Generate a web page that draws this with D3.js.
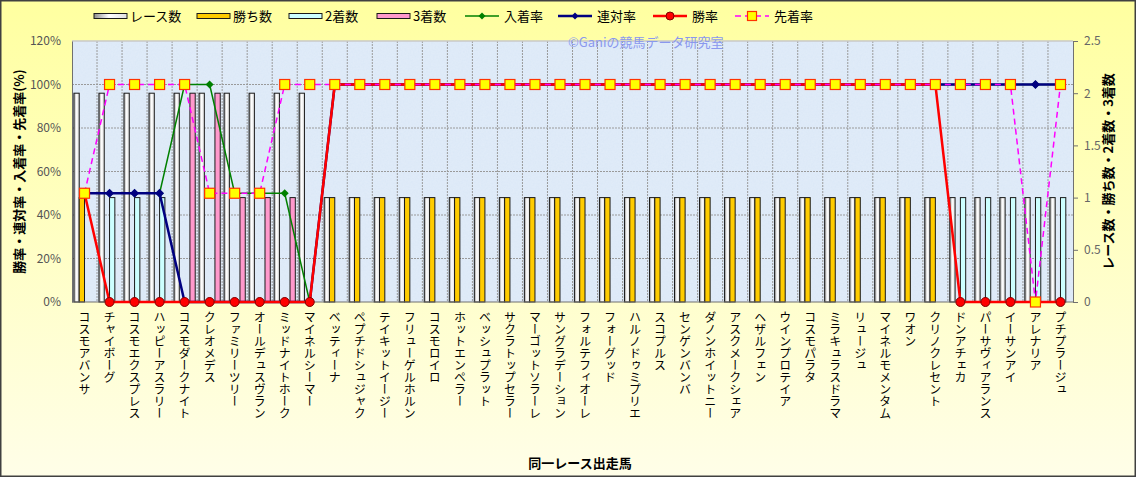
<!DOCTYPE html>
<html>
<head>
<meta charset="utf-8">
<script src="https://cdn.jsdelivr.net/npm/d3@7"></script>
<style>
  body { margin: 0; }
  text { font-family: "Noto Sans CJK JP", "Noto Sans", sans-serif; }
</style>
</head>
<body>
<div id="chart"></div>
<script>
// 同一レース出走馬の成績

const horses = ["コスモアバンサ", "チャイボーグ", "コスモエクスプレス", "ハッピーアスラリー", "コスモダークナイト",
  "クレオメデス", "ファミリーツリー", "オールデュスヴラン", "ミッドナイトホーク", "マイネルシーマー",
  "ベッティーナ", "ペプチドシュジャク", "テイキットイージー", "フリューゲルホルン", "コスモロイロ",
  "ホットエンペラー", "ベッシュプラット", "サクラトップセラー", "マーゴットソラーレ", "サングラデーション",
  "フォルテフィオーレ", "フォーグッド", "ハルノドゥミプリエ", "スコプルス", "センゲンバンバ",
  "ダノンホイットニー", "アスクメークシェア", "ヘザルフェン", "ウインプロテイア", "コスモパラタ",
  "ミラキュラスドラマ", "リュージュ", "マイネルモメンタム", "ワオン", "クリノクレセント",
  "ドンアチェカ", "パーサヴィアランス", "イーサンアイ", "アレナリア", "プチプラージュ"];

const raceCounts = [2, 2, 2, 2, 2, 2, 2, 2, 2, 2,
  1, 1, 1, 1, 1, 1, 1, 1, 1, 1, 1, 1, 1, 1, 1, 1, 1, 1, 1, 1, 1, 1, 1, 1, 1,
  1, 1, 1, 1, 1];
const winCounts = [1, 0, 0, 0, 0, 0, 0, 0, 0, 0,
  1, 1, 1, 1, 1, 1, 1, 1, 1, 1, 1, 1, 1, 1, 1, 1, 1, 1, 1, 1, 1, 1, 1, 1, 1,
  0, 0, 0, 0, 0];
const secondCounts = [0, 1, 1, 1, 0, 0, 0, 0, 0, 0,
  0, 0, 0, 0, 0, 0, 0, 0, 0, 0, 0, 0, 0, 0, 0, 0, 0, 0, 0, 0, 0, 0, 0, 0, 0,
  1, 1, 1, 1, 1];
const thirdCounts = [0, 0, 0, 0, 2, 2, 1, 1, 1, 0,
  0, 0, 0, 0, 0, 0, 0, 0, 0, 0, 0, 0, 0, 0, 0, 0, 0, 0, 0, 0, 0, 0, 0, 0, 0,
  0, 0, 0, 0, 0];

const placeRate = [50, 50, 50, 50, 100, 100, 50, 50, 50, 0,
  100, 100, 100, 100, 100, 100, 100, 100, 100, 100, 100, 100, 100, 100, 100, 100, 100, 100, 100, 100, 100, 100, 100, 100, 100,
  100, 100, 100, 100, 100];
const rentaiRate = [50, 50, 50, 50, 0, 0, 0, 0, 0, 0,
  100, 100, 100, 100, 100, 100, 100, 100, 100, 100, 100, 100, 100, 100, 100, 100, 100, 100, 100, 100, 100, 100, 100, 100, 100,
  100, 100, 100, 100, 100];
const winRate = [50, 0, 0, 0, 0, 0, 0, 0, 0, 0,
  100, 100, 100, 100, 100, 100, 100, 100, 100, 100, 100, 100, 100, 100, 100, 100, 100, 100, 100, 100, 100, 100, 100, 100, 100,
  0, 0, 0, 0, 0];
const aheadRate = [50, 100, 100, 100, 100, 50, 50, 50, 100, 100,
  100, 100, 100, 100, 100, 100, 100, 100, 100, 100, 100, 100, 100, 100, 100, 100, 100, 100, 100, 100, 100, 100, 100, 100, 100,
  100, 100, 100, 0, 100];

const leftTicks = [0, 20, 40, 60, 80, 100, 120];
const rightTicks = [0, 0.5, 1, 1.5, 2, 2.5];

const width = 1136, height = 477;
const margin = {top: 41, right: 63, bottom: 175, left: 72};

const svg = d3.select("#chart")
  .append("svg")
  .attr("width", width)
  .attr("height", height);

const defs = svg.append("defs");

const bg = defs.append("linearGradient").attr("id", "bg")
  .attr("x1", 0).attr("y1", 0).attr("x2", 0).attr("y2", 1);
bg.append("stop").attr("offset", 0).attr("stop-color", "#ffffa0");
bg.append("stop").attr("offset", 1).attr("stop-color", "#fffee8");

const raceGrad = defs.append("linearGradient").attr("id", "raceGrad")
  .attr("x1", 0).attr("y1", 0).attr("x2", 1).attr("y2", 0);
raceGrad.append("stop").attr("offset", 0).attr("stop-color", "#8c8c8c");
raceGrad.append("stop").attr("offset", 0.45).attr("stop-color", "#ffffff");
raceGrad.append("stop").attr("offset", 1).attr("stop-color", "#e0e0e0");

const noise = defs.append("filter").attr("id", "noise");
noise.append("feTurbulence").attr("type", "fractalNoise").attr("baseFrequency", 0.6).attr("numOctaves", 2).attr("result", "t");
noise.append("feColorMatrix").attr("type", "matrix")
  .attr("values", "0 0 0 0 1  0 0 0 0 1  0 0 0 0 1  0 0 0 0.35 0");
noise.append("feComposite").attr("in2", "SourceGraphic").attr("operator", "in");

// outer background
svg.append("rect")
  .attr("x", 0.75).attr("y", 0.75)
  .attr("width", width - 1.5).attr("height", height - 1.5)
  .attr("fill", "url(#bg)")
  .attr("stroke", "#404040")
  .attr("stroke-width", 1.5);

const x0 = margin.left, x1 = width - margin.right;
const y0 = height - margin.bottom, y1 = margin.top;

const xScale = d3.scaleBand()
  .domain(horses)
  .range([x0, x1]);

const subScale = d3.scaleBand()
  .domain(["race", "win", "second", "third"])
  .range([0, xScale.bandwidth()])
  .paddingOuter(0.36);

const yLeft = d3.scaleLinear().domain([0, 120]).range([y0, y1]);
const yRight = d3.scaleLinear().domain([0, 2.5]).range([y0, y1]);

// plot area
svg.append("rect")
  .attr("x", x0).attr("y", y1)
  .attr("width", x1 - x0).attr("height", y0 - y1)
  .attr("fill", "#dbe8f7");
svg.append("rect")
  .attr("x", x0).attr("y", y1)
  .attr("width", x1 - x0).attr("height", y0 - y1)
  .attr("fill", "#ffffff")
  .attr("filter", "url(#noise)")
  .attr("opacity", 0.5);

// grid
svg.append("g")
  .selectAll("line")
  .data(leftTicks.slice(1, -1))
  .join("line")
  .attr("x1", x0).attr("x2", x1)
  .attr("y1", d => yLeft(d)).attr("y2", d => yLeft(d))
  .attr("stroke", "#9a9a9a")
  .attr("stroke-dasharray", "2,1");

svg.append("g")
  .selectAll("line")
  .data(horses.slice(1))
  .join("line")
  .attr("x1", d => xScale(d)).attr("x2", d => xScale(d))
  .attr("y1", y1).attr("y2", y0)
  .attr("stroke", "#9a9a9a")
  .attr("stroke-dasharray", "2,1");

svg.append("line")
  .attr("x1", x0).attr("x2", x1).attr("y1", y1).attr("y2", y1)
  .attr("stroke", "#c8c8c8").attr("stroke-width", 1.5);

// watermark
svg.append("text")
  .attr("x", 568).attr("y", 47)
  .attr("font-size", 13)
  .attr("fill", "#8a98ee")
  .text("©Ganiの競馬データ研究室");

// bars
const barSeries = [
  {key: "race", values: raceCounts, fill: "url(#raceGrad)"},
  {key: "win", values: winCounts, fill: "#ffcc00"},
  {key: "second", values: secondCounts, fill: "#ccffff"},
  {key: "third", values: thirdCounts, fill: "#ff99cc"}
];

barSeries.forEach(s => {
  svg.append("g")
    .selectAll("rect")
    .data(horses.map((h, i) => ({h: h, v: s.values[i]})).filter(d => d.v > 0))
    .join("rect")
    .attr("x", d => xScale(d.h) + subScale(s.key))
    .attr("y", d => yRight(d.v))
    .attr("width", subScale.bandwidth())
    .attr("height", d => y0 - yRight(d.v))
    .attr("fill", s.fill)
    .attr("stroke", "#1a1a1a")
    .attr("stroke-width", 1);
});

// axes
const leftAxis = svg.append("g")
  .attr("transform", `translate(${x0},0)`)
  .call(d3.axisLeft(yLeft).tickValues(leftTicks).tickFormat(d => d + "%").tickSize(0).tickPadding(11));
leftAxis.select(".domain").attr("stroke", "#707070");
leftAxis.selectAll("text").attr("font-size", 12).attr("fill", "#555").attr("font-family", "Liberation Sans, sans-serif");

const rightAxis = svg.append("g")
  .attr("transform", `translate(${x1},0)`)
  .call(d3.axisRight(yRight).tickValues(rightTicks).tickFormat(d3.format("")).tickSize(5).tickSizeOuter(0).tickPadding(6));
rightAxis.select(".domain").attr("stroke", "#707070");
rightAxis.selectAll(".tick line").attr("stroke", "#707070");
rightAxis.selectAll("text").attr("font-size", 12).attr("fill", "#666").attr("font-family", "Liberation Sans, sans-serif");

svg.append("line")
  .attr("x1", x0).attr("x2", x1).attr("y1", y0).attr("y2", y0)
  .attr("stroke", "#707070");

// x labels, vertical
svg.append("g")
  .selectAll("text")
  .data(horses)
  .join("text")
  .attr("x", d => xScale(d) + xScale.bandwidth() / 2)
  .attr("y", y0 + 9)
  .attr("font-size", 12)
  .attr("fill", "#000")
  .style("writing-mode", "vertical-rl")
  .style("text-orientation", "upright")
  .text(d => d);

// lines
const lineSeries = [
  {name: "入着率", values: placeRate, color: "#008000", w: 1.5, marker: "diamond", size: 8, dash: null},
  {name: "連対率", values: rentaiRate, color: "#000080", w: 2.5, marker: "diamond", size: 9, dash: null},
  {name: "勝率", values: winRate, color: "#ff0000", w: 2.5, marker: "circle", size: 9, dash: null},
  {name: "先着率", values: aheadRate, color: "#ff00ff", w: 1.5, marker: "square", size: 10, dash: "6,4"}
];

const cx = h => xScale(h) + xScale.bandwidth() / 2;

function drawMarker(g, m, size, color) {
  if (m === "circle") {
    g.append("circle").attr("r", size / 2)
      .attr("fill", "#ff0000").attr("stroke", "#800000").attr("stroke-width", 1);
  } else if (m === "square") {
    g.append("rect").attr("x", -size / 2).attr("y", -size / 2)
      .attr("width", size).attr("height", size)
      .attr("fill", "#ffff00").attr("stroke", "#ff3300").attr("stroke-width", 1.2);
  } else {
    const s = size / 2;
    g.append("path").attr("d", `M0,${-s}L${s},0L0,${s}L${-s},0Z`).attr("fill", color);
  }
}

lineSeries.forEach(s => {
  const line = d3.line()
    .x((d, i) => cx(horses[i]))
    .y(d => yLeft(d));
  svg.append("path")
    .datum(s.values)
    .attr("d", line)
    .attr("fill", "none")
    .attr("stroke", s.color)
    .attr("stroke-width", s.w)
    .attr("stroke-dasharray", s.dash);
  svg.append("g")
    .selectAll("g")
    .data(s.values)
    .join("g")
    .attr("transform", (d, i) => `translate(${cx(horses[i])},${yLeft(d)})`)
    .each(function() { drawMarker(d3.select(this), s.marker, s.size, s.color); });
});

// axis titles
svg.append("text")
  .attr("transform", `translate(24,${(y0 + y1) / 2}) rotate(-90)`)
  .attr("text-anchor", "middle")
  .attr("font-size", 13).attr("font-weight", "bold")
  .text("勝率・連対率・入着率・先着率(%)");

svg.append("text")
  .attr("transform", `translate(1113,${(y0 + y1) / 2}) rotate(-90)`)
  .attr("text-anchor", "middle")
  .attr("font-size", 13).attr("font-weight", "bold")
  .text("レース数・勝ち数・2着数・3着数");

svg.append("text")
  .attr("x", 580).attr("y", 468)
  .attr("text-anchor", "middle")
  .attr("font-size", 13).attr("font-weight", "bold")
  .text("同一レース出走馬");

// legend
const legendBars = [
  {name: "レース数", fill: "url(#raceGrad)", x: 94},
  {name: "勝ち数", fill: "#ffcc00", x: 197},
  {name: "2着数", fill: "#ccffff", x: 289},
  {name: "3着数", fill: "#ff99cc", x: 377}
];
legendBars.forEach(l => {
  svg.append("rect").attr("x", l.x).attr("y", 13.5).attr("width", 33).attr("height", 5)
    .attr("fill", l.fill).attr("stroke", "#1a1a1a");
  svg.append("text").attr("x", l.x + 36).attr("y", 21).attr("font-size", 13).text(l.name);
});
const legendLineX = [465, 558, 653, 735];
lineSeries.forEach((s, i) => {
  const lx = legendLineX[i];
  svg.append("line").attr("x1", lx).attr("x2", lx + 34).attr("y1", 16).attr("y2", 16)
    .attr("stroke", s.color).attr("stroke-width", s.w).attr("stroke-dasharray", s.dash);
  const g = svg.append("g").attr("transform", `translate(${lx + 17},16)`);
  drawMarker(g, s.marker, s.marker === "diamond" ? 7 : (s.marker === "square" ? 9 : 8), s.color);
  svg.append("text").attr("x", lx + 39).attr("y", 21).attr("font-size", 13).text(s.name);
});
</script>
</body>
</html>
